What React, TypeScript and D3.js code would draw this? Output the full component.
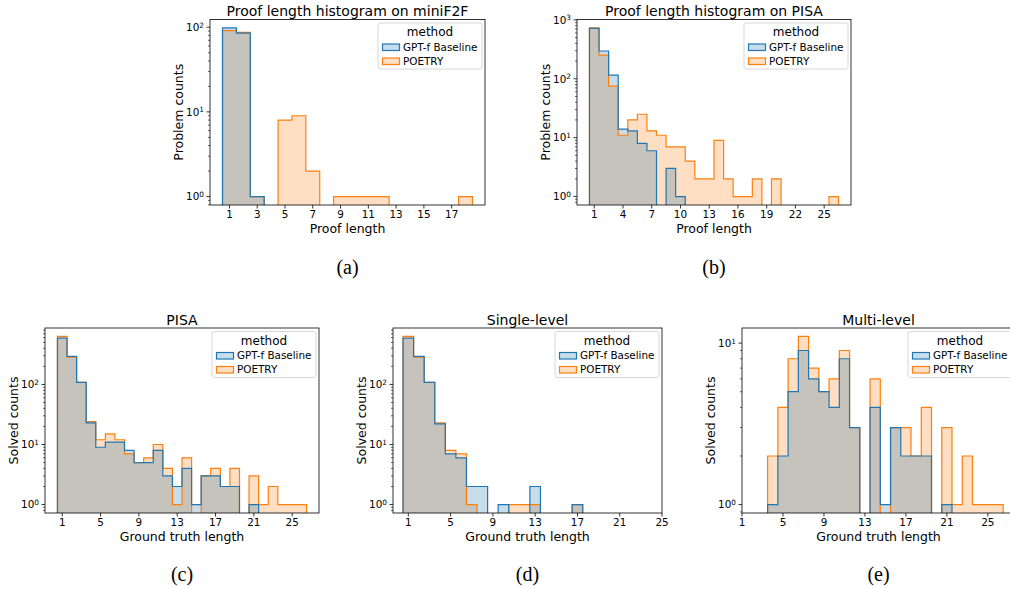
import React from "react";
import * as d3 from "d3";

const BLUE = "#1f77b4";
const ORANGE = "#ff7f0e";
const LIGHT_BLUE = "#c7ddec";
const LIGHT_ORANGE = "#ffdfc3";
const OVERLAP = "#c5c3bc";
const FONT = "DejaVu Sans, sans-serif";

const methods = ["GPT-f Baseline", "POETRY"];

// (a) proof length on miniF2F
const miniF2FLengths = [1, 2, 3, 4, 5, 6, 7, 8, 9, 10, 11, 12, 13, 14, 15, 16, 17, 18];
const miniF2FBaseline = [98, 85, 1, 0, 0, 0, 0, 0, 0, 0, 0, 0, 0, 0, 0, 0, 0, 0];
const miniF2FPoetry = [91, 87, 1, 0, 8, 9, 2, 0, 1, 1, 1, 1, 0, 0, 0, 0, 0, 1];
const miniF2FTicks = [1, 3, 5, 7, 9, 11, 13, 15, 17];

// (b) proof length on PISA
const pisaLengths = [1, 2, 3, 4, 5, 6, 7, 8, 9, 10, 11, 12, 13, 14, 15, 16, 17, 18, 19, 20, 21, 22, 23, 24, 25, 26];
const pisaBaseline = [717, 296, 115, 14, 13, 8, 6, 0, 3, 1, 0, 0, 0, 0, 0, 0, 0, 0, 0, 0, 0, 0, 0, 0, 0, 0];
const pisaPoetry = [730, 253, 75, 11, 20, 25, 13, 11, 7, 7, 4, 2, 2, 9, 2, 1, 1, 2, 0, 2, 0, 0, 0, 0, 0, 1];
const pisaTicks = [1, 4, 7, 10, 13, 16, 19, 22, 25];

// (c) ground truth length, PISA
const gtLengths = [1, 2, 3, 4, 5, 6, 7, 8, 9, 10, 11, 12, 13, 14, 15, 16, 17, 18, 19, 20, 21, 22, 23, 24, 25, 26];
const gtBaseline = [590, 294, 108, 23, 9, 11, 11, 8, 5, 5, 8, 3, 2, 4, 1, 3, 3, 2, 2, 0, 1, 0, 0, 0, 0, 0];
const gtPoetry = [630, 285, 108, 24, 12, 15, 12, 7, 5, 6, 10, 4, 1, 6, 0, 3, 4, 2, 4, 0, 3, 1, 2, 1, 1, 1];

// (d) single-level
const singleLengths = [1, 2, 3, 4, 5, 6, 7, 8, 9, 10, 11, 12, 13, 14, 15, 16, 17];
const singleBaseline = [590, 294, 108, 22, 7, 6, 2, 2, 0, 1, 0, 0, 2, 0, 0, 0, 1];
const singlePoetry = [630, 285, 108, 23, 8, 7, 1, 0, 0, 0, 1, 1, 1, 0, 0, 0, 1];

// (e) multi-level
const multiLengths = [4, 5, 6, 7, 8, 9, 10, 11, 12, 13, 14, 15, 16, 17, 18, 19, 20, 21, 22, 23, 24, 25, 26];
const multiBaseline = [1, 2, 5, 9, 6, 5, 4, 8, 3, 0, 4, 1, 3, 2, 2, 2, 0, 1, 0, 0, 0, 0, 0];
const multiPoetry = [2, 4, 8, 11, 7, 5, 6, 9, 3, 0, 6, 0, 3, 3, 2, 4, 0, 3, 1, 2, 1, 1, 1];

const gtTicks = [1, 5, 9, 13, 17, 21, 25];

type PanelProps = {
  id: string;
  left: number;
  right: number;
  top: number;
  bottom: number;
  xDomain: [number, number];
  xTicks: number[];
  bins: number[];
  blue: number[];
  orange: number[];
  title: string;
  xLabel: string;
  yLabel: string;
  tag: string;
};

function Legend({ x, y }: { x: number; y: number }) {
  const fills = [LIGHT_BLUE, LIGHT_ORANGE];
  const strokes = [BLUE, ORANGE];
  return (
    <g transform={`translate(${x},${y})`}>
      <rect width={104} height={46} rx={2.5} fill="white" fillOpacity={0.8} stroke="#cccccc" strokeWidth={0.8} />
      <text x={52} y={13} textAnchor="middle" fontSize={12} fontFamily={FONT}>method</text>
      {methods.map((m, i) => (
        <g key={m} transform={`translate(0,${24 + i * 14})`}>
          <rect x={4.5} y={-3} width={17} height={6.5} fill={fills[i]} stroke={strokes[i]} strokeWidth={1.2} />
          <text x={25} y={0} dy="0.36em" fontSize={10.4} fontFamily={FONT}>{m}</text>
        </g>
      ))}
    </g>
  );
}

function Panel(p: PanelProps) {
  const maxLog = Math.log10(d3.max([...p.blue, ...p.orange]) as number);
  const pad = maxLog * 0.05;
  const x = d3.scaleLinear().domain(p.xDomain).range([p.left, p.right]);
  const y = d3.scaleLog().domain([Math.pow(10, -pad), Math.pow(10, maxLog + pad)]).range([p.bottom, p.top]);
  const base = p.bottom + 4;

  const pts = (vals: number[]) => {
    const arr = p.bins.map((b, i) => [b - 0.5, vals[i]] as [number, number]);
    arr.push([p.bins[p.bins.length - 1] + 0.5, vals[vals.length - 1]]);
    return arr;
  };
  const yv = (v: number) => (v > 0 ? y(v) : base);
  const area = d3.area<[number, number]>()
    .x(d => x(d[0]))
    .y0(base)
    .y1(d => yv(d[1]))
    .curve(d3.curveStepAfter);
  const line = d3.line<[number, number]>()
    .x(d => x(d[0]))
    .y(d => yv(d[1]))
    .curve(d3.curveStepAfter);
  const outline = (vals: number[]) => {
    const a = pts(vals);
    return line([[a[0][0], 0], ...a, [a[a.length - 1][0], 0]]);
  };
  const overlap = p.blue.map((v, i) => Math.min(v, p.orange[i]));

  const [lo, hi] = y.domain();
  const majors: number[] = [];
  const minors: number[] = [];
  for (let k = Math.floor(Math.log10(lo)); k <= Math.ceil(Math.log10(hi)); k++) {
    const m = Math.pow(10, k);
    if (m >= lo && m <= hi) majors.push(k);
    for (let j = 2; j < 10; j++) {
      const v = j * m;
      if (v >= lo && v <= hi) minors.push(v);
    }
  }

  const cx = (p.left + p.right) / 2;
  const cy = (p.top + p.bottom) / 2;

  return (
    <g>
      <defs>
        <clipPath id={`clip-${p.id}`}>
          <rect x={p.left} y={p.top} width={p.right - p.left} height={p.bottom - p.top} />
        </clipPath>
      </defs>
      <g clipPath={`url(#clip-${p.id})`}>
        <path d={area(pts(p.blue)) || ""} fill={LIGHT_BLUE} />
        <path d={area(pts(p.orange)) || ""} fill={LIGHT_ORANGE} />
        <path d={area(pts(overlap)) || ""} fill={OVERLAP} />
        <path d={outline(p.orange) || ""} fill="none" stroke={ORANGE} strokeWidth={1.2} />
        <path d={outline(p.blue) || ""} fill="none" stroke={BLUE} strokeWidth={1.2} />
      </g>
      <rect x={p.left} y={p.top} width={p.right - p.left} height={p.bottom - p.top} fill="none" stroke="black" strokeWidth={0.8} />
      {p.xTicks.map(t => (
        <g key={t} transform={`translate(${x(t)},${p.bottom})`}>
          <line y2={3.5} stroke="black" strokeWidth={0.8} />
          <text y={6} dy="0.71em" textAnchor="middle" fontSize={10.4} fontFamily={FONT}>{t}</text>
        </g>
      ))}
      {minors.map(v => (
        <line key={v} x1={p.left} x2={p.left - 2} y1={y(v)} y2={y(v)} stroke="black" strokeWidth={0.6} />
      ))}
      {majors.map(k => (
        <g key={k} transform={`translate(${p.left},${y(Math.pow(10, k))})`}>
          <line x2={-3.5} stroke="black" strokeWidth={0.8} />
          <text x={-6} dy="0.36em" textAnchor="end" fontSize={10.4} fontFamily={FONT}>
            10<tspan dy="-0.45em" fontSize={7.3}>{k}</tspan>
          </text>
        </g>
      ))}
      <text x={cx} y={p.top - 3.5} textAnchor="middle" fontSize={14} fontFamily={FONT}>{p.title}</text>
      <text x={cx} y={p.bottom + 28} textAnchor="middle" fontSize={12.5} fontFamily={FONT}>{p.xLabel}</text>
      <text transform={`translate(${p.left - 32},${cy}) rotate(-90)`} dy="0.36em" textAnchor="middle" fontSize={12.5} fontFamily={FONT}>{p.yLabel}</text>
      <Legend x={p.right - 3 - 104} y={p.top + 3.5} />
      <text x={cx} y={p.bottom < 300 ? 274 : 581} textAnchor="middle" fontSize={20} fontFamily="Liberation Serif, serif">{p.tag}</text>
    </g>
  );
}

export default function App() {
  return (
    <svg width={1010} height={589} style={{ position: "fixed", left: 0, top: 0, background: "white" }}>
      <Panel id="a" left={210} right={485} top={19.5} bottom={205} xDomain={[-0.4, 19.4]} xTicks={miniF2FTicks}
        bins={miniF2FLengths} blue={miniF2FBaseline} orange={miniF2FPoetry}
        title="Proof length histogram on miniF2F" xLabel="Proof length" yLabel="Problem counts" tag="(a)" />
      <Panel id="b" left={577} right={851} top={19.5} bottom={205} xDomain={[-0.8, 27.8]} xTicks={pisaTicks}
        bins={pisaLengths} blue={pisaBaseline} orange={pisaPoetry}
        title="Proof length histogram on PISA" xLabel="Proof length" yLabel="Problem counts" tag="(b)" />
      <Panel id="c" left={45} right={319} top={328} bottom={513} xDomain={[-0.8, 27.8]} xTicks={gtTicks}
        bins={gtLengths} blue={gtBaseline} orange={gtPoetry}
        title="PISA" xLabel="Ground truth length" yLabel="Solved counts" tag="(c)" />
      <Panel id="d" left={393} right={662} top={328} bottom={513} xDomain={[-0.45, 25]} xTicks={gtTicks}
        bins={singleLengths} blue={singleBaseline} orange={singlePoetry}
        title="Single-level" xLabel="Ground truth length" yLabel="Solved counts" tag="(d)" />
      <Panel id="e" left={742} right={1015} top={328} bottom={513} xDomain={[1, 27.65]} xTicks={gtTicks}
        bins={multiLengths} blue={multiBaseline} orange={multiPoetry}
        title="Multi-level" xLabel="Ground truth length" yLabel="Solved counts" tag="(e)" />
    </svg>
  );
}
